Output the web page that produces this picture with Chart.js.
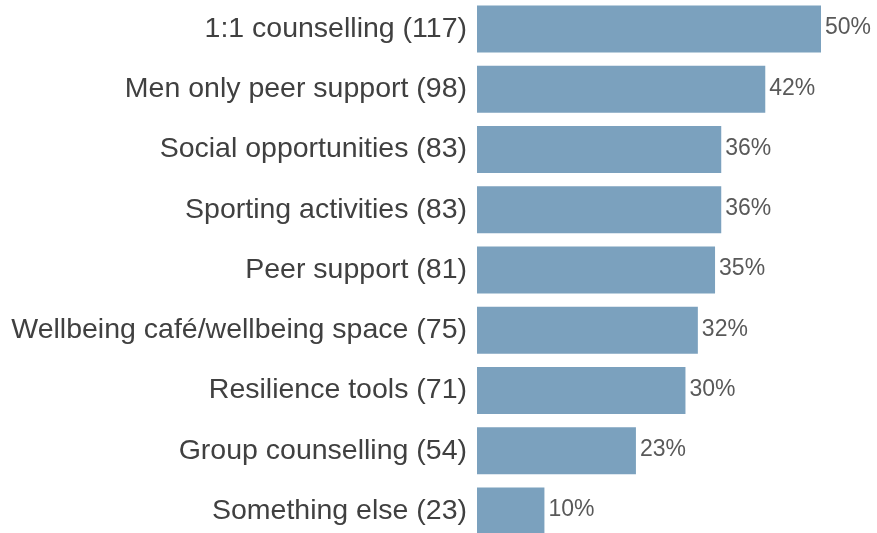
<!DOCTYPE html>
<html>
<head>
<meta charset="utf-8">
<script src="https://cdn.jsdelivr.net/npm/chart.js@4/dist/chart.umd.min.js"></script>
<style>
  html, body { margin: 0; padding: 0; background: #ffffff; overflow: hidden; }
  #wrap { position: relative; width: 877px; height: 533px; overflow: hidden; }
  #c { position: absolute; left: 0; top: -1px; }
</style>
</head>
<body>
<div id="wrap"><canvas id="c" width="877" height="542"></canvas></div>
<script>
const categories = [
  "1:1 counselling (117)",
  "Men only peer support (98)",
  "Social opportunities (83)",
  "Sporting activities (83)",
  "Peer support (81)",
  "Wellbeing café/wellbeing space (75)",
  "Resilience tools (71)",
  "Group counselling (54)",
  "Something else (23)"
];
const percentValues = [50, 41.9, 35.5, 35.5, 34.6, 32.1, 30.3, 23.1, 9.8];
const valueLabels = ["50%", "42%", "36%", "36%", "35%", "32%", "30%", "23%", "10%"];

const FONT = "'Liberation Sans', Arial, sans-serif";

const barLabels = {
  id: 'barLabels',
  afterDatasetsDraw(chart) {
    const ctx = chart.ctx;
    const meta = chart.getDatasetMeta(0);
    ctx.save();
    ctx.font = "23px " + FONT;
    ctx.fillStyle = "#595959";
    ctx.textAlign = "left";
    ctx.textBaseline = "middle";
    meta.data.forEach((bar, i) => {
      ctx.fillText(valueLabels[i], bar.x + 4, bar.y - 1);
    });
    ctx.restore();
  }
};

new Chart(document.getElementById('c'), {
  type: 'bar',
  data: {
    labels: categories,
    datasets: [{
      data: percentValues,
      backgroundColor: '#7ba1be',
      borderWidth: 0,
      barPercentage: 0.78,
      categoryPercentage: 1.0
    }]
  },
  options: {
    indexAxis: 'y',
    responsive: false,
    animation: false,
    devicePixelRatio: 1,
    layout: { padding: { left: 0, right: 56, top: 0, bottom: 0 } },
    plugins: {
      legend: { display: false },
      tooltip: { enabled: false }
    },
    scales: {
      x: {
        display: false,
        min: 0,
        max: 50
      },
      y: {
        offset: true,
        grid: { display: false, drawTicks: false },
        border: { display: false },
        ticks: {
          color: '#404040',
          font: { family: FONT, size: 28.5 },
          padding: 10,
          autoSkip: false
        },
        afterFit(scale) {
          scale.width = 477;
          scale.paddingTop = 0;
          scale.paddingBottom = 0;
        }
      }
    }
  },
  plugins: [barLabels]
});
</script>
</body>
</html>
